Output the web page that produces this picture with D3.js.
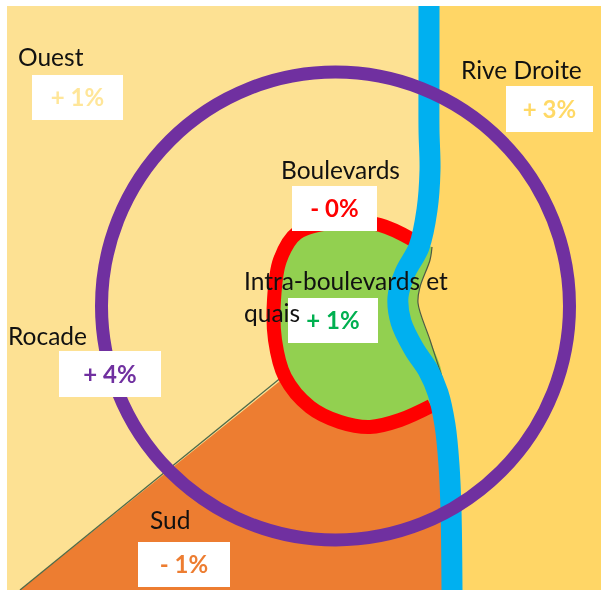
<!DOCTYPE html>
<html>
<head>
<meta charset="utf-8">
<script src="https://cdn.jsdelivr.net/npm/d3@7"></script>
<style>
  html, body { margin: 0; padding: 0; background: #fff; }
  svg { display: block; }
  text { font-family: Lato, "Open Sans", sans-serif; }
</style>
</head>
<body>
<div id="chart"></div>
<script>
// Zones and their change, in the same order
const zones = ["Ouest", "Rive Droite", "Boulevards", "Intra-boulevards et quais", "Rocade", "Sud"];
const changes = ["+ 1%", "+ 3%", "- 0%", "+ 1%", "+ 4%", "- 1%"];

// Outlines of the schematic map as [x, y] map units
const riverPath = [[429, 6], [429, 70], [429, 130], [430, 170], [427, 210], [419, 247], [405, 273], [398, 297], [401, 322], [414, 349], [428, 370], [438, 393], [445, 425], [449, 465], [451, 510], [452, 590]];
const boulevardPath = [[413, 240], [380, 225], [340, 222], [297, 233], [280, 260], [274, 300], [275, 340], [285, 377], [310, 407], [340, 422], [370, 427], [400, 420], [431, 406]];
const quaiEdge = [[442, 377], [430, 340], [418, 303], [420, 287], [430, 260], [432, 247]];
const sudEdge = [[20, 590], [283, 376]];
const ringCentre = [335.5, 306];
const ringRadius = 234;

// Map box and label anchors (x, y of label, then box x0, y0, x1, y1)
const mapBox = [7, 6, 601, 590];
const labelAnchors = [[18, 66], [461, 79], [281, 179], [244, 290], [8, 345], [150, 529]];
const valueBoxes = [[32, 75, 123, 120], [506, 86, 593, 132], [292, 186, 377, 231], [288, 298, 378, 343], [59, 351, 161, 397], [138, 542, 230, 587]];
const zoneColors = ["#ffe699", "#ffd966", "#ff0000", "#00b050", "#7030a0", "#ed7d31"];

const width = 601;
const height = 590;

const x = d3.scaleLinear().domain([0, 601]).range([0, width]);
const y = d3.scaleLinear().domain([0, 590]).range([0, height]);

const curved = d3.line().x(d => x(d[0])).y(d => y(d[1])).curve(d3.curveCatmullRom.alpha(0.5));
const straight = d3.line().x(d => x(d[0])).y(d => y(d[1]));

const svg = d3.select("#chart").append("svg")
  .attr("width", width)
  .attr("height", height);

const map = svg.append("g").style("filter", "blur(0.5px)");

// ---- Background zones ----
map.append("rect")
  .attr("x", x(mapBox[0]))
  .attr("y", y(mapBox[1]))
  .attr("width", x(mapBox[2]) - x(mapBox[0]))
  .attr("height", y(mapBox[3]) - y(mapBox[1]))
  .attr("fill", "#fde193");

// Right bank: everything east of the river
map.append("path")
  .attr("d", curved(riverPath) + `L${x(mapBox[2])},${y(mapBox[3])}L${x(mapBox[2])},${y(mapBox[1])}Z`)
  .attr("fill", "#ffd666");

// South: between the diagonal edge, the boulevards and the river
const sudOutline = boulevardPath.slice(7).concat(riverPath.filter(d => d[1] > 400));
map.append("path")
  .attr("d", curved(sudOutline) + `L${x(sudEdge[0][0])},${y(sudEdge[0][1])}Z`)
  .attr("fill", "#ed7d31");

map.append("path")
  .attr("d", straight(sudEdge))
  .attr("fill", "none")
  .attr("stroke", "#4f6a4a")
  .attr("stroke-width", 1.3);

// ---- Centre ----
map.append("path")
  .attr("d", curved(boulevardPath.concat(quaiEdge)) + "Z")
  .attr("fill", "#92d050");

map.append("path")
  .attr("d", curved(quaiEdge))
  .attr("fill", "none")
  .attr("stroke", "#4d5a45")
  .attr("stroke-width", 1.2);

map.append("path")
  .attr("d", curved(boulevardPath))
  .attr("fill", "none")
  .attr("stroke", "#ff0000")
  .attr("stroke-width", 14);

map.append("path")
  .attr("d", curved(riverPath))
  .attr("fill", "none")
  .attr("stroke", "#00b0f0")
  .attr("stroke-width", 21);

// ---- Ring road ----
map.append("circle")
  .attr("cx", x(ringCentre[0]))
  .attr("cy", y(ringCentre[1]))
  .attr("r", x(ringRadius))
  .attr("fill", "none")
  .attr("stroke", "#7030a0")
  .attr("stroke-width", 13);

// ---- Value boxes ----
const boxes = svg.append("g").style("filter", "blur(0.4px)")
  .selectAll("g")
  .data(zones)
  .join("g");

boxes.append("rect")
  .attr("x", (d, i) => x(valueBoxes[i][0]))
  .attr("y", (d, i) => y(valueBoxes[i][1]))
  .attr("width", (d, i) => x(valueBoxes[i][2]) - x(valueBoxes[i][0]))
  .attr("height", (d, i) => y(valueBoxes[i][3]) - y(valueBoxes[i][1]))
  .attr("fill", "#fff");

boxes.append("text")
  .attr("x", (d, i) => x((valueBoxes[i][0] + valueBoxes[i][2]) / 2))
  .attr("y", (d, i) => y((valueBoxes[i][1] + valueBoxes[i][3]) / 2) + 8.5)
  .attr("text-anchor", "middle")
  .attr("font-size", 24)
  .attr("font-weight", 700)
  .attr("fill", (d, i) => zoneColors[i])
  .text((d, i) => changes[i]);

// ---- Zone names (the long one wraps on two lines) ----
const names = boxes.append("text")
  .attr("x", (d, i) => x(labelAnchors[i][0]))
  .attr("y", (d, i) => y(labelAnchors[i][1]))
  .attr("font-size", 24.5)
  .attr("fill", "#111");

names.filter(d => d !== "Intra-boulevards et quais").text(d => d);

names.filter(d => d === "Intra-boulevards et quais")
  .each(function (d) {
    const t = d3.select(this);
    const words = d.split(" ");
    t.append("tspan").text(words.slice(0, 2).join(" "));
    t.append("tspan").attr("x", t.attr("x")).attr("dy", 32).text(words[2]);
  });
</script>
</body>
</html>
